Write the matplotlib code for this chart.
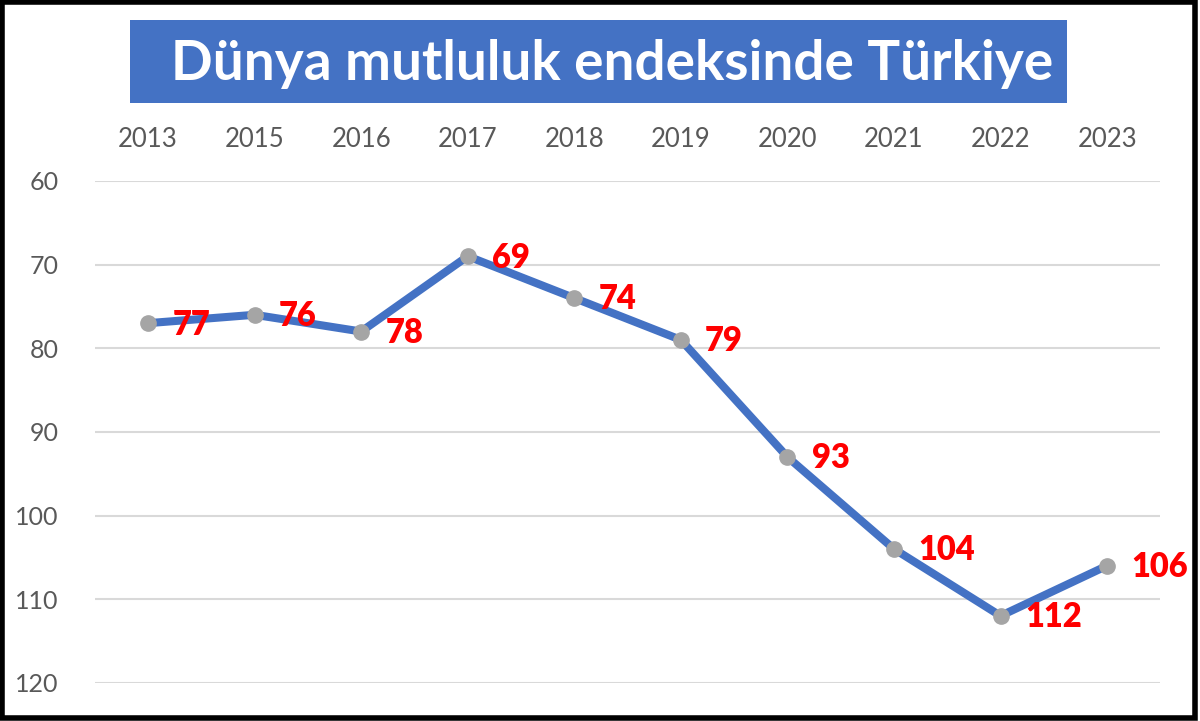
import matplotlib
matplotlib.use("Agg")
import matplotlib.pyplot as plt
from matplotlib.patches import Rectangle

# veriler
years = ["2013", "2015", "2016", "2017", "2018", "2019", "2020", "2021", "2022", "2023"]
ranks = [77, 76, 78, 69, 74, 79, 93, 104, 112, 106]
y_ticks = [60, 70, 80, 90, 100, 110, 120]
title = "Dünya mutluluk endeksinde Türkiye"

plt.rcParams['font.family'] = ['Lato', 'DejaVu Sans']

fig = plt.figure(figsize=(12, 7.21), dpi=100)
ax = fig.add_axes([0.079, 0.053, 0.888, 0.696])

x = list(range(len(years)))
ax.plot(x, ranks, color="#4472C4", linewidth=5.8, solid_capstyle="round",
        marker="o", markersize=11, markerfacecolor="#A5A5A5",
        markeredgecolor="#A5A5A5", zorder=3)

# etiketler
for xi, v in zip(x, ranks):
    ax.annotate(str(v), (xi, v), xytext=(17.5, -1), textcoords="offset points",
                ha="left", va="center", color="#FF0000", fontsize=23.5,
                fontweight="heavy", zorder=4)

ax.set_xlim(-0.5, len(years) - 0.5)
ax.set_ylim(120, 60)
ax.set_yticks(y_ticks)
ax.set_xticks(x)
ax.set_xticklabels(years)
ax.xaxis.tick_top()
ax.tick_params(axis="x", length=0, pad=21, labelsize=18.5, labelcolor="#595959")
ax.tick_params(axis="y", length=0, pad=26, labelsize=18, labelcolor="#595959")
ax.grid(axis="y", color="#D9D9D9", linewidth=1.5)
ax.set_axisbelow(True)
for s in ax.spines.values():
    s.set_visible(False)

# başlık kutusu
fig.patches.append(Rectangle((130 / 1200, 1 - 103 / 721), 937 / 1200, 83 / 721,
                             transform=fig.transFigure, facecolor="#4472C4",
                             edgecolor="none", zorder=1))
fig.text(612 / 1200, 1 - 64 / 721, title, ha="center", va="center",
         color="white", fontsize=39.5, fontweight="bold")

# çerçeve
fig.patches.append(Rectangle((0.002, 0.004), 0.994, 0.993, transform=fig.transFigure,
                             facecolor="none", edgecolor="black", linewidth=4,
                             zorder=5))

fig.savefig("out.png", dpi=100)
